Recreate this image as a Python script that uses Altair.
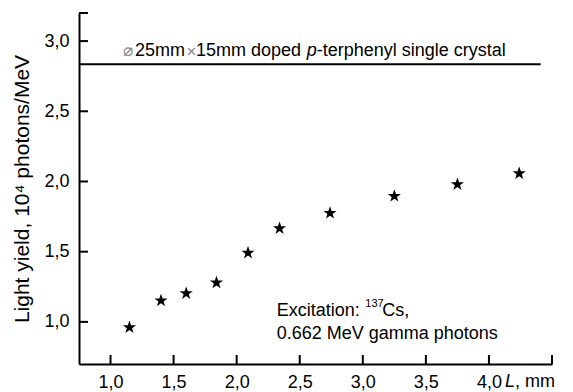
import altair as alt
import pandas as pd

# ---- data ----
L_mm = [1.15, 1.40, 1.60, 1.84, 2.09, 2.34, 2.74, 3.25, 3.75, 4.24]
light_yield = [0.966, 1.156, 1.208, 1.284, 1.496, 1.671, 1.780, 1.901, 1.984, 2.062]

x_label_values = [1.0, 1.5, 2.0, 2.5, 3.0, 3.5, 4.0]
y_label_values = [1.0, 1.5, 2.0, 2.5, 3.0]
x_tick_values = [1.0, 1.5, 2.0, 2.5, 3.0, 3.5, 4.0, 4.5]
y_tick_values = [1.0, 1.5, 2.0, 2.5, 3.0, 3.2]
x_domain = [0.75, 4.5]
y_domain = [0.7, 3.2]

crystal_level = 2.835
crystal_x = [0.75, 4.41]

# annotation pieces: text, x, y (data units)
plain_texts = ["25mm", "15mm doped", "-terphenyl single crystal", ", mm"]
plain_x = [1.194, 1.678, 2.635, 4.207]
plain_y = [2.929, 2.929, 2.929, 0.572]

note_texts = ["Excitation:", "Cs,", "0.662 MeV gamma photons"]
note_x = [2.317, 3.154, 2.317]
note_y = [1.077, 1.077, 0.914]

italic_texts = ["p", "L"]
italic_x = [2.555, 4.128]
italic_y = [2.929, 0.572]

symbol_texts = ["\u2300", "\u00d7"]
symbol_x = [1.096, 1.602]
symbol_y = [2.929, 2.925]

sup_texts = ["137"]
sup_x = [3.02]
sup_y = [1.127]

FONT = "Liberation Sans"

# five-pointed star glyph in the unit box
STAR = ("M0,-0.905L0.24,-0.214L0.951,-0.214L0.38,0.22L0.588,0.904L0,0.49"
        "L-0.588,0.904L-0.38,0.22L-0.951,-0.214L-0.24,-0.214Z")

xs = alt.Scale(domain=x_domain, nice=False, zero=False)
ys = alt.Scale(domain=y_domain, nice=False, zero=False)

lab_expr = "replace(format(datum.value, '.1f'), '.', ',')"

points = pd.DataFrame({"x": L_mm, "y": light_yield})

X_AXIS = alt.Axis(
    values=x_label_values, labelExpr=lab_expr, ticks=False, grid=False,
    domainWidth=2, domainColor="black", title=None, labelFontSize=18,
    labelPadding=9, labelColor="black", labelFont=FONT)
Y_AXIS = alt.Axis(
    values=y_label_values, labelExpr=lab_expr, ticks=False, grid=False,
    domainWidth=2, domainColor="black", labelFontSize=18,
    labelPadding=10, labelColor="black", labelFont=FONT,
    title="Light yield, 10\u2074 photons/MeV", titleFont=FONT,
    titleFontSize=21, titleFontWeight="normal", titleColor="black",
    titleX=-57, titleY=175.5, titleBaseline="middle", titleAngle=270)

stars = alt.Chart(points).mark_point(
    shape=STAR, filled=True, size=190, color="black", opacity=1
).encode(
    x=alt.X("x:Q", scale=xs, axis=X_AXIS),
    y=alt.Y("y:Q", scale=ys, axis=Y_AXIS),
)

line_df = pd.DataFrame({"x": [crystal_x[0]], "x1": [crystal_x[1]], "y": [crystal_level]})
crystal_line = alt.Chart(line_df).mark_rule(color="black", strokeWidth=2).encode(
    x=alt.X("x:Q", scale=xs), x2="x1:Q",
    y=alt.Y("y:Q", scale=ys))

xt = alt.Chart(pd.DataFrame({"x": x_tick_values})).mark_tick(
    orient="vertical", size=9, thickness=2, color="black", opacity=1
).encode(x=alt.X("x:Q", scale=xs), y=alt.value(346.5))

yt = alt.Chart(pd.DataFrame({"y": y_tick_values})).mark_tick(
    orient="horizontal", size=9, thickness=2, color="black", opacity=1
).encode(y=alt.Y("y:Q", scale=ys), x=alt.value(4.5))


def text_layer(texts, xv, yv, **kw):
    df = pd.DataFrame({"t": texts, "x": xv, "y": yv})
    return alt.Chart(df).mark_text(align="left", baseline="middle", font=FONT, **kw).encode(
        x=alt.X("x:Q", scale=xs),
        y=alt.Y("y:Q", scale=ys),
        text="t:N")


plain = text_layer(plain_texts, plain_x, plain_y, fontSize=18, color="black")
note = text_layer(note_texts, note_x, note_y, fontSize=18, color="black")
italic = text_layer(italic_texts, italic_x, italic_y, fontSize=18, fontStyle="italic", color="black")
symbols = text_layer(symbol_texts, symbol_x, symbol_y, fontSize=17, color="#888888")
sup = text_layer(sup_texts, sup_x, sup_y, fontSize=11, color="black")

chart = alt.layer(stars, crystal_line, xt, yt, plain, note, italic, symbols, sup).properties(
    width=473, height=351,
    padding={"left": 79, "top": 13, "right": 21, "bottom": 28},
    autosize=alt.AutoSizeParams(type="none"),
    background="white",
).configure_view(stroke=None)

chart.save("out.html", embed_options={"renderer": "svg", "actions": False})
